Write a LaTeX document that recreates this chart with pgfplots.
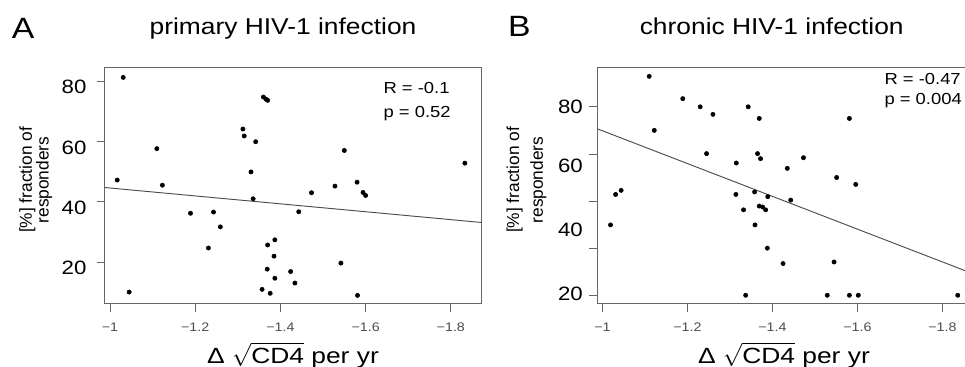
\documentclass[border=0pt]{standalone}
\usepackage{fontspec}
\setmainfont{Liberation Sans}[FakeStretch=1.15]
\newfontfamily\plainfont{Liberation Sans}
\newfontfamily\widefont{Liberation Sans}[FakeStretch=1.2]
\usepackage{pgfplots}
\pgfplotsset{compat=1.18}

\pgfplotstableread{
x y
-1.031 81.2
-1.017 47.2
-1.045 10.1
-1.110 57.6
-1.123 45.5
-1.189 36.2
-1.243 36.6
-1.259 31.7
-1.231 24.7
-1.312 64.1
-1.315 61.8
-1.342 59.9
-1.331 49.9
-1.336 41.0
-1.360 74.7
-1.366 74.0
-1.370 73.6
-1.370 25.7
-1.387 27.4
-1.385 22.0
-1.369 17.7
-1.387 14.7
-1.357 11.0
-1.376 9.7
-1.424 16.9
-1.434 13.1
-1.443 36.7
-1.473 43.0
-1.528 45.2
-1.550 57.0
-1.542 19.7
-1.580 46.5
-1.594 43.1
-1.600 42.1
-1.581 9.0
-1.833 52.8
}\primary

\pgfplotstableread{
x y
-1.110 89.7
-1.189 82.6
-1.230 80.0
-1.260 77.6
-1.122 72.5
-1.343 80.0
-1.369 76.3
-1.581 76.3
-1.245 65.1
-1.365 65.1
-1.372 63.5
-1.315 62.1
-1.473 63.8
-1.435 60.4
-1.551 57.5
-1.596 55.3
-1.031 52.1
-1.044 53.4
-1.019 42.4
-1.314 52.1
-1.358 52.9
-1.389 51.4
-1.443 50.3
-1.332 47.2
-1.369 48.4
-1.377 48.1
-1.384 47.2
-1.359 42.4
-1.388 35.0
-1.425 30.1
-1.545 30.6
-1.337 20
-1.529 20
-1.581 20
-1.602 20
-1.836 20
}\chronic

\pgfplotsset{
  rstyle/.style={
    scale only axis,
    height=177.2pt,
    x dir=reverse,
    axis line style={black!60, line width=0.75pt},
    tick style={black!60, line width=0.6pt},
    tick align=outside,
    tick pos=left,
    major tick length=6pt,
    xtick={-1,-1.2,-1.4,-1.6,-1.8},
    xticklabels={−1,−1.2,−1.4,−1.6,−1.8},
    xticklabel style={font=\fontsize{9.3}{10}\selectfont, text=black!70, inner sep=0pt, anchor=north, yshift=-8.3pt},
    yticklabel style={font=\fontsize{14.5}{16}\selectfont, inner sep=0pt, anchor=east},
    clip=true,
  },
  dots/.style={only marks, mark=*, mark size=1.6pt, black},
  fit/.style={black!70, line width=0.7pt, no marks},
}

\begin{document}
\begin{tikzpicture}
\path[use as bounding box] (0,0) rectangle (723.75pt,275.25pt);

% Panel A
\begin{axis}[rstyle,
  at={(78.75pt,47.25pt)}, anchor=south west,
  width=282.4pt,
  xmin=-1.87207, xmax=-0.98826,
  ymin=6.16, ymax=84.40,
  ytick={20,40,60,80},
  yticklabels={20,40,60,80},
  yticklabel style={yshift=-4.5pt, xshift=-7.7pt},
]
\addplot[fit] coordinates {(-0.98826,44.72) (-1.87207,33.15)};
\addplot[dots] table[x=x,y=y] {\primary};
\end{axis}

% Panel B
\begin{axis}[rstyle,
  at={(448pt,47.25pt)}, anchor=south west,
  width=277.3pt,
  xmin=-1.8579, xmax=-0.988,
  ymin=17.223, ymax=92.447,
  ytick={20,35,50,65,80},
  yticklabels={,,,,},
  extra y ticks={20.6,40.8,61.3,80},
  extra y tick labels={20,40,60,80},
  extra y tick style={major tick length=0pt, tick style={draw=none}, yticklabel style={xshift=-10.7pt}},
]
\addplot[fit] coordinates {(-0.988,73.0) (-1.8579,27.59)};
\addplot[dots] table[x=x,y=y] {\chronic};
\end{axis}

% panel letters and titles
\node[anchor=base, font=\fontsize{22}{26}\selectfont] at (17.25pt,246.5pt) {A};
\node[anchor=base, font=\fontsize{17.2}{20}\selectfont] at (212.25pt,249pt) {primary HIV-1 infection};
\node[anchor=base, font=\fontsize{22}{26}\selectfont] at (389.5pt,247.75pt) {B};
\node[anchor=base, font=\fontsize{17.2}{20}\selectfont] at (578.8pt,249pt) {chronic HIV-1 infection};

% statistics
\node[anchor=base west, inner sep=0pt, font=\fontsize{12}{14}\selectfont] at (287.5pt,205.25pt) {R = -0.1};
\node[anchor=base west, inner sep=0pt, font=\fontsize{12}{14}\selectfont] at (287.5pt,187pt) {p = 0.52};
\node[anchor=base west, inner sep=0pt, font=\fontsize{12}{14}\selectfont] at (663.2pt,211.5pt) {R = -0.47};
\node[anchor=base west, inner sep=0pt, font=\fontsize{12}{14}\selectfont] at (663.2pt,196.5pt) {p = 0.004};

% y labels
\node[rotate=90, inner sep=0pt, font=\plainfont\fontsize{13}{15}\selectfont] at (20.6pt,140.25pt) {[\%] fraction of};
\node[rotate=90, inner sep=0pt, font=\plainfont\fontsize{13}{15}\selectfont] at (33.15pt,140.25pt) {responders};
\node[rotate=90, inner sep=0pt, font=\plainfont\fontsize{13}{15}\selectfont] at (386pt,140.25pt) {[\%] fraction of};
\node[rotate=90, inner sep=0pt, font=\plainfont\fontsize{13}{15}\selectfont] at (403.7pt,140.25pt) {responders};

% x labels
\node[anchor=base, inner sep=0pt, font=\widefont\fontsize{16.5}{19}\selectfont] at (219.75pt,2.75pt) {Δ\ $\sqrt{\mbox{\widefont\fontsize{16.5}{19}\selectfont CD4}}$\ per yr};
\node[anchor=base, inner sep=0pt, font=\widefont\fontsize{16.5}{19}\selectfont] at (588pt,2.75pt) {Δ\ $\sqrt{\mbox{\widefont\fontsize{16.5}{19}\selectfont CD4}}$\ per yr};
\end{tikzpicture}
\end{document}
